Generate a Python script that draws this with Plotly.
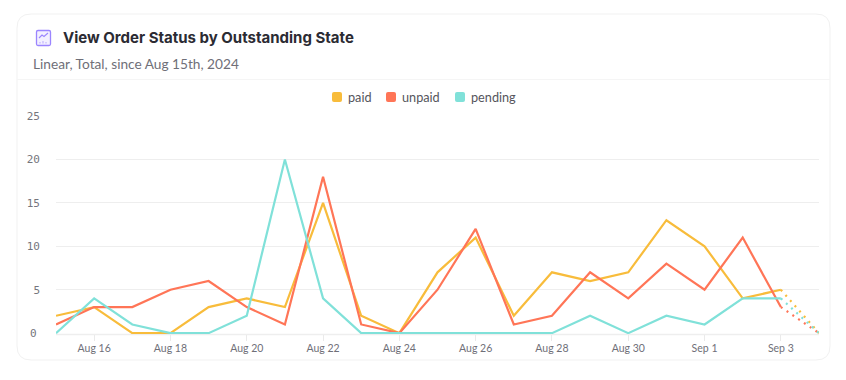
import plotly.graph_objects as go

dates = ["2024-08-15","2024-08-16","2024-08-17","2024-08-18","2024-08-19","2024-08-20","2024-08-21",
         "2024-08-22","2024-08-23","2024-08-24","2024-08-25","2024-08-26","2024-08-27","2024-08-28",
         "2024-08-29","2024-08-30","2024-08-31","2024-09-01","2024-09-02","2024-09-03","2024-09-04"]
paid =    [2,3,0,0,3,4,3,15,2,0,7,11,2,7,6,7,13,10,4,5,0]
unpaid =  [1,3,3,5,6,3,1,18,1,0,5,12,1,2,7,4,8,5,11,3,0]
pending = [0,4,1,0,0,2,20,4,0,0,0,0,0,0,2,0,2,1,4,4,0]
series = [("paid", paid, "#F8BC3B"), ("unpaid", unpaid, "#FF7557"), ("pending", pending, "#80E1D9")]
tick_dates = ["2024-08-16","2024-08-18","2024-08-20","2024-08-22","2024-08-24","2024-08-26","2024-08-28",
              "2024-08-30","2024-09-01","2024-09-03"]
tick_labels = ["Aug 16","Aug 18","Aug 20","Aug 22","Aug 24","Aug 26","Aug 28","Aug 30","Sep 1","Sep 3"]
y_ticks = [0,5,10,15,20,25]
y_labels = ["0","5","10","15","20","25"]

W, H = 846, 380
L, R, T, B = 56, 27, 116, 46
FONT = "Lato, sans-serif"

def px(x): return (x - L) / (W - L - R)
def py(y): return 1 - (y - T) / (H - T - B)

fig = go.Figure()
for name, vals, color in series:
    fig.add_trace(go.Scatter(x=dates[:-1], y=vals[:-1], mode="lines", name=name,
                             line=dict(color=color, width=2.2), showlegend=False, hoverinfo="skip"))
    fig.add_trace(go.Scatter(x=dates[-2:], y=vals[-2:], mode="lines", name=name + " (partial)",
                             line=dict(color=color, width=2.2, dash="2px 5px"), showlegend=False, hoverinfo="skip"))

shapes = []
def rect(x0, y0, x1, y1, r, line=None, fill=None, lw=1):
    p = (f"M {px(x0+r)} {py(y0)} L {px(x1-r)} {py(y0)} Q {px(x1)} {py(y0)} {px(x1)} {py(y0+r)} "
         f"L {px(x1)} {py(y1-r)} Q {px(x1)} {py(y1)} {px(x1-r)} {py(y1)} "
         f"L {px(x0+r)} {py(y1)} Q {px(x0)} {py(y1)} {px(x0)} {py(y1-r)} "
         f"L {px(x0)} {py(y0+r)} Q {px(x0)} {py(y0)} {px(x0+r)} {py(y0)} Z")
    shapes.append(dict(type="path", path=p, xref="paper", yref="paper", layer="below",
                       line=dict(color=line or "rgba(0,0,0,0)", width=lw), fillcolor=fill or "rgba(0,0,0,0)"))

rect(17, 14, 830, 360, 14, line="#F1F1F1", fill="#FFFFFF")
shapes.append(dict(type="line", xref="paper", yref="paper", x0=px(17), x1=px(830), y0=py(79.5), y1=py(79.5),
                   line=dict(color="#F5F5F5", width=1), layer="below"))
# baseline below the series
shapes.append(dict(type="line", xref="paper", yref="paper", x0=0, x1=1, y0=py(334.5), y1=py(334.5),
                   line=dict(color="#EEEEEE", width=1.5), layer="below"))
# report icon
rect(36.5, 30.5, 50.5, 45.5, 1.5, line="#9B85FF", fill="#F3F0FF", lw=1.3)
shapes.append(dict(type="path", xref="paper", yref="paper",
                   path=f"M {px(39)} {py(38)} L {px(42)} {py(35)} L {px(44)} {py(36.5)} L {px(48)} {py(33)}",
                   line=dict(color="#9B85FF", width=1.1)))
for xa, ya in [(40, 42), (43, 41), (46, 42)]:
    shapes.append(dict(type="line", xref="paper", yref="paper", x0=px(xa), x1=px(xa), y0=py(ya), y1=py(43.5),
                       line=dict(color="#B9A9FF", width=1)))
# legend swatches
for x0, color in zip([332, 386, 455], [s[2] for s in series]):
    rect(x0, 92, x0 + 10, 102, 2, fill=color)

ann = [
    dict(x=px(61), y=py(38), text="<b>View Order Status by Outstanding State</b>", font=dict(size=15, color="#2B2B33", family="Inter, sans-serif")),
    dict(x=px(31), y=py(63.5), text="Linear, Total, since Aug 15th, 2024", font=dict(size=13.7, color="#6F6F78", family=FONT)),
]
for x0, name in zip([346, 400, 469], [s[0] for s in series]):
    ann.append(dict(x=px(x0), y=py(97), text=name, font=dict(size=12.7, color="#55555C", family=FONT)))
for a in ann:
    a.update(xref="paper", yref="paper", xanchor="left", yanchor="middle", showarrow=False)

fig.update_layout(
    width=W, height=H, margin=dict(l=L, r=R, t=T, b=B), paper_bgcolor="#FFFFFF", plot_bgcolor="rgba(0,0,0,0)",
    showlegend=False, shapes=shapes, annotations=ann,
    xaxis=dict(type="date", range=["2024-08-15", "2024-09-04"], tickmode="array", tickvals=tick_dates,
               ticktext=tick_labels, showgrid=False, zeroline=False, showline=False, ticks="outside", ticklen=6,
               tickcolor="#EAEAEA", ticklabelstandoff=-2, tickfont=dict(size=10.5, color="#6F6F78", family=FONT)),
    yaxis=dict(range=[-0.1, 25], tickmode="array", tickvals=y_ticks[1:], ticktext=y_labels[1:], showgrid=True,
               gridcolor="#EEEEEE", gridwidth=1, zeroline=False,
               ticks="", ticklabelstandoff=15, tickfont=dict(size=11, color="#75757D", family="DejaVu Sans Mono, monospace")),
)
fig.add_annotation(x=px(39), y=py(333), text=y_labels[0], showarrow=False, xref="paper", yref="paper", xanchor="right",
                   yanchor="middle", font=dict(size=11, color="#75757D", family="DejaVu Sans Mono, monospace"))
fig.write_html("out.html", config=dict(displayModeBar=False),
               post_script="document.body.style.margin='0';document.body.style.overflow='hidden';")
